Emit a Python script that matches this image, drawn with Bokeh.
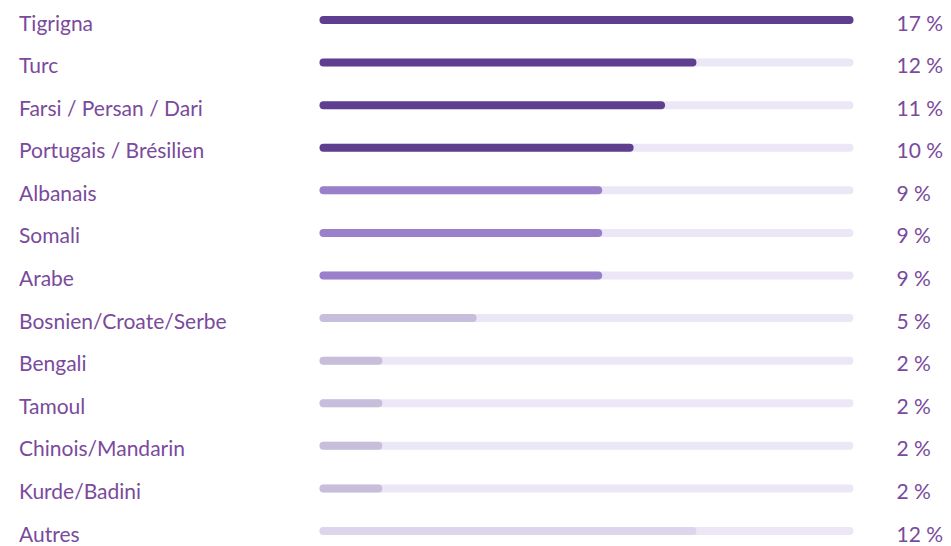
from bokeh.plotting import figure
from bokeh.models import ColumnDataSource, Range1d
from bokeh.embed import file_html
from bokeh.resources import INLINE
from bokeh.core.properties import value

languages = ["Tigrigna", "Turc", "Farsi / Persan / Dari", "Portugais / Brésilien",
             "Albanais", "Somali", "Arabe", "Bosnien/Croate/Serbe", "Bengali",
             "Tamoul", "Chinois/Mandarin", "Kurde/Badini", "Autres"]
percents = [17, 12, 11, 10, 9, 9, 9, 5, 2, 2, 2, 2, 12]
bar_colors = ["#5e3f8f", "#5e3f8f", "#5e3f8f", "#5e3f8f",
              "#9a80cb", "#9a80cb", "#9a80cb",
              "#c6bedb", "#c6bedb", "#c6bedb", "#c6bedb", "#c6bedb",
              "#ddd5ec"]

W, H = 951, 546
n = len(languages)
vmax = max(percents)
# pixel geometry (canvas coordinates)
x0_px, x1_px = 319, 853
y_first, y_last = 19.5, 530.5
scale = (x1_px - x0_px) / vmax
row = (y_last - y_first) / (n - 1)

idx = list(range(n))
src = ColumnDataSource(dict(
    y=idx, v=percents, full=[vmax] * n, zero=[0] * n, color=bar_colors,
    lab=languages, pct=[f"{p} %" for p in percents],
    ty=[i + 2.0 / row for i in idx],
    xl=[-x0_px / scale] * n,
))

p = figure(width=W, height=H, output_backend="svg", toolbar_location=None,
           x_range=Range1d(-x0_px / scale, (W - x0_px) / scale),
           y_range=Range1d(n - 1 + (H - y_last) / row, -y_first / row),
           min_border=0, outline_line_color=None, background_fill_color="white",
           border_fill_color="white")
p.axis.visible = False
p.grid.visible = False

bh = 8.0 / row
p.hbar(y="y", left="zero", right="full", height=bh, source=src,
       fill_color="#ebe7f6", line_color=None, border_radius=4)
p.hbar(y="y", left="zero", right="v", height=bh, source=src,
       fill_color="color", line_color=None, border_radius=4)

p.text(x="xl", y="ty", text="lab", source=src, x_offset=18.5,
       text_font=value("Lato"), text_font_size="21px", text_color="#7a4a9c",
       text_baseline="alphabetic", text_align="left")
p.text(x="full", y="ty", text="pct", source=src, x_offset=896 - x1_px,
       text_font=value("Lato"), text_font_size="21px", text_color="#7a4a9c",
       text_baseline="alphabetic", text_align="left")

open("out.html", "w").write(file_html(p, INLINE))
